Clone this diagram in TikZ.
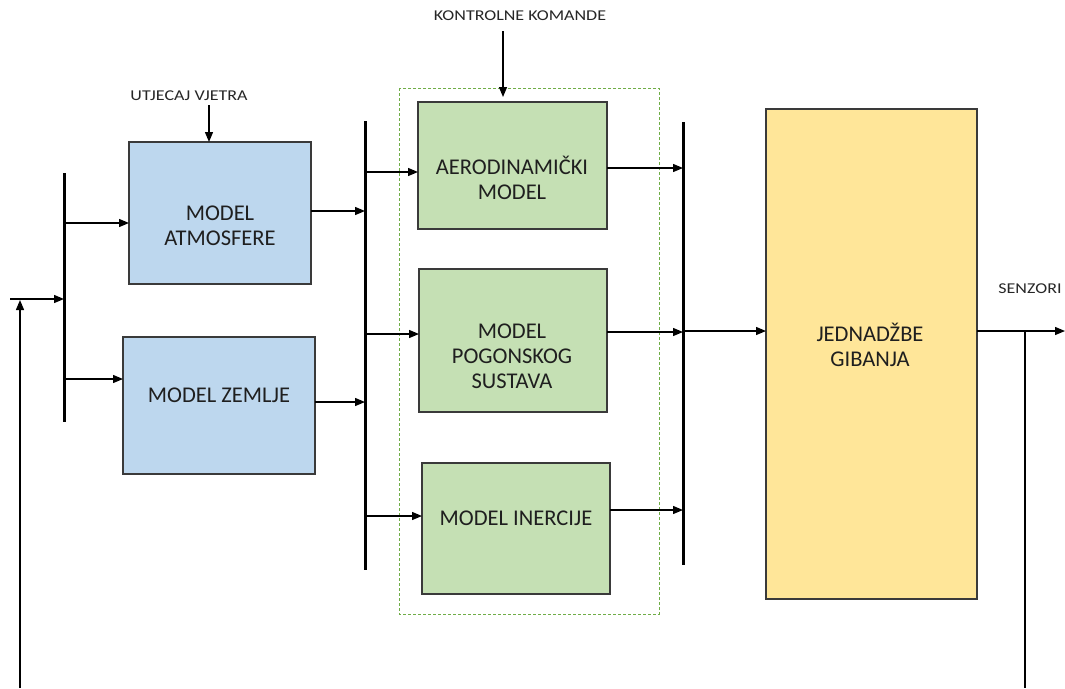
\documentclass[tikz,border=0pt]{standalone}
\usepackage{fontspec}
\setmainfont{Carlito}
\newfontfamily\widefont[FakeStretch=1.2]{Carlito}
\usetikzlibrary{arrows.meta,calc}
\definecolor{blueF}{HTML}{BDD7EE}
\definecolor{greenF}{HTML}{C5E0B4}
\definecolor{yellowF}{HTML}{FFE699}
\definecolor{dashG}{HTML}{70AD47}
\definecolor{edgeC}{HTML}{3A3A3A}
\begin{document}
\begin{tikzpicture}[x=1pt,y=-1pt,
  box/.style={draw=edgeC,line width=1.3pt,rectangle,inner sep=0pt,outer sep=0pt},
  boxtext/.style={font=\fontsize{22.5}{25}\selectfont,text=black!88,align=center,inner sep=0pt},
  smalltext/.style={font=\widefont\fontsize{15}{18}\selectfont,text=black!85,inner sep=0pt},
  bus/.style={line width=3pt,black},
  arr/.style={line width=1.3pt,black,-{Triangle[length=10pt,width=8pt]}},
  ln/.style={line width=1.3pt,black}]
\useasboundingbox (0,0) rectangle (1065,688);
\fill[white] (0,0) rectangle (1065,688);

% group
\draw[dashG,line width=1pt,dash pattern=on 3pt off 2pt] (399,88) rectangle (659,614);

% boxes
\node[box,fill=blueF,minimum width=182pt,minimum height=142pt] (atm) at (220,213) {};
\node[box,fill=blueF,minimum width=192pt,minimum height=137pt] (zem) at (219,405.5) {};
\node[box,fill=greenF,minimum width=189pt,minimum height=127pt] (aer) at (512.5,165.5) {};
\node[box,fill=greenF,minimum width=188pt,minimum height=143pt] (pog) at (513,340.5) {};
\node[box,fill=greenF,minimum width=188pt,minimum height=131pt] (ine) at (516,528.5) {};
\node[box,fill=yellowF,minimum width=211pt,minimum height=490pt] (jed) at (871.5,354) {};

% box texts
\node[boxtext] (tatm) at (220,226) {MODEL\\ATMOSFERE};
\node[boxtext] (tzem) at (219,395) {MODEL ZEMLJE};
\node[boxtext] (taer) at (512,178) {AERODINAMIČKI\\MODEL};
\node[boxtext] (tpog) at (512,356) {MODEL\\POGONSKOG\\SUSTAVA};
\node[boxtext] (tine) at (516,518) {MODEL INERCIJE};
\node[boxtext] (tjed) at (870,345) {JEDNADŽBE\\GIBANJA};

% labels
\node[smalltext] (lvj) at (189,96) {UTJECAJ VJETRA};
\node[smalltext] (lkk) at (520,16) {KONTROLNE KOMANDE};
\node[smalltext] (lsz) at (1030,289) {SENZORI};

% buses
\coordinate (b1t) at (64,173); \coordinate (b1b) at (64,422);
\coordinate (b2t) at (365,121); \coordinate (b2b) at (365,570);
\coordinate (b3t) at (683,122); \coordinate (b3b) at (683,565);
\draw[bus] (b1t) -- (b1b);
\draw[bus] (b2t) -- (b2b);
\draw[bus] (b3t) -- (b3b);

% input and feedback
\coordinate (inp) at (10,299);
\coordinate (fbL) at (20,688);
\coordinate (fbR) at (1025,688);
\coordinate (outE) at (1065,331);
\draw[arr] (inp) -- (inp -| b1t);
\draw[arr] (fbL) -- ([yshift=-1pt]fbL |- inp);
\draw[arr] ([yshift=23pt]jed.east) -- (outE);
\draw[ln] (fbR |- outE) -- (fbR);

% wind and control
\coordinate (wv) at (209,105);
\coordinate (kk) at (503,31);
\draw[arr] (wv) -- (wv |- atm.north);
\draw[arr] (kk) -- ([yshift=5pt]kk |- aer.north);

% bus1 -> models
\draw[arr] ([yshift=-10pt]atm.west -| b1t) -- ([yshift=-10pt]atm.west);
\draw[arr] ([yshift=26.5pt]zem.west -| b1t) -- ([yshift=26.5pt]zem.west);
% models -> bus2
\draw[arr] ([yshift=2pt]atm.east) -- ([yshift=2pt]atm.east -| b2t);
\draw[arr] ([yshift=3.5pt]zem.east) -- ([yshift=3.5pt]zem.east -| b2t);
% bus2 -> green models
\draw[arr] ([yshift=-6.5pt]aer.west -| b2t) -- ([yshift=-6.5pt]aer.west);
\draw[arr] ([yshift=6.5pt]pog.west -| b2t) -- ([yshift=6.5pt]pog.west);
\draw[arr] ([yshift=12.5pt]ine.west -| b2t) -- ([yshift=12.5pt]ine.west);
% green models -> bus3
\draw[arr] ([yshift=-2.5pt]aer.east) -- ([yshift=-2.5pt]aer.east -| b3t);
\draw[arr] ([yshift=8.5pt]pog.east) -- ([yshift=8.5pt]pog.east -| b3t);
\draw[arr] ([yshift=18.5pt]ine.east) -- ([yshift=18.5pt]ine.east -| b3t);
% bus3 -> equations
\draw[arr] ([yshift=23pt]jed.west -| b3t) -- ([yshift=23pt]jed.west);
\end{tikzpicture}
\end{document}
